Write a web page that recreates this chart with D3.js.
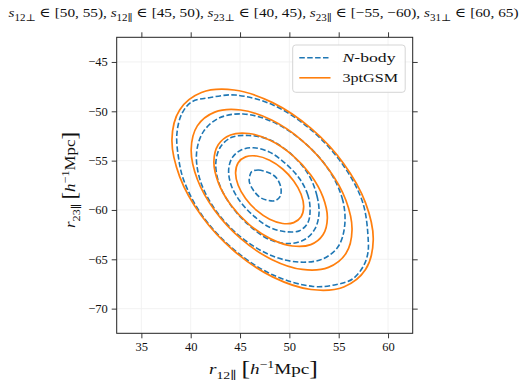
<!DOCTYPE html>
<html><head><meta charset="utf-8">
<script src="https://cdn.jsdelivr.net/npm/d3@7"></script>
<style>body{margin:0;background:#fff}svg{display:block}text{font-family:"Liberation Serif","DejaVu Serif",serif;fill:#111}</style>
</head><body><div id="chart"></div>
<script>
// ---- data ----
const xTicks = [35, 40, 45, 50, 55, 60];
const yTicks = [-45, -50, -55, -60, -65, -70];
const xDomain = [32.5, 62.5];
const yDomain = [-72.5, -42.5];
const seriesNames = ["N-body", "3ptGSM"];

// 3ptGSM contours (outer -> inner), [r12par, r23par]
const gsm1 = [[58.50,-63.05],[57.72,-59.28],[55.51,-55.31],[52.20,-51.74],[48.30,-49.12],[44.40,-47.84],[41.09,-48.10],[38.88,-49.86],[38.10,-52.85],[38.88,-56.62],[41.09,-60.59],[44.40,-64.16],[48.30,-66.78],[52.20,-68.06],[55.51,-67.80],[57.72,-66.04]];
const gsm2 = [[56.35,-62.03],[55.73,-59.01],[53.96,-55.84],[51.32,-52.99],[48.20,-50.89],[45.08,-49.87],[42.44,-50.08],[40.67,-51.48],[40.05,-53.88],[40.67,-56.89],[42.44,-60.06],[45.08,-62.91],[48.20,-65.01],[51.32,-66.03],[53.96,-65.82],[55.73,-64.42]];
const gsm3 = [[53.85,-60.83],[53.41,-58.70],[52.17,-56.46],[50.30,-54.45],[48.10,-52.97],[45.90,-52.25],[44.03,-52.40],[42.79,-53.39],[42.35,-55.08],[42.79,-57.20],[44.03,-59.44],[45.90,-61.45],[48.10,-62.93],[50.30,-63.65],[52.17,-63.51],[53.41,-62.51]];
const gsm4 = [[51.45,-59.68],[51.19,-58.40],[50.44,-57.06],[49.32,-55.85],[48.00,-54.96],[46.68,-54.53],[45.56,-54.62],[44.81,-55.21],[44.55,-56.23],[44.81,-57.50],[45.56,-58.84],[46.68,-60.05],[48.00,-60.94],[49.32,-61.37],[50.44,-61.28],[51.19,-60.69]];

// N-body contours (outer -> inner)
const nbody1 = [[58.00,-63.20],[57.45,-59.29],[55.41,-55.40],[52.17,-51.85],[48.30,-49.34],[44.50,-48.35],[42.00,-48.60],[40.10,-49.05],[39.10,-50.25],[38.60,-52.30],[38.75,-54.60],[39.30,-57.00],[41.19,-60.60],[44.47,-64.09],[48.30,-66.57],[52.40,-67.75],[54.80,-67.55],[56.40,-67.00],[57.50,-65.70],[57.95,-64.40]];
const nbody2 = [[55.60,-61.65],[55.41,-59.01],[53.99,-55.92],[51.40,-53.07],[48.30,-51.07],[45.32,-50.27],[42.93,-50.66],[41.32,-52.01],[40.60,-54.15],[40.95,-56.96],[42.57,-60.10],[45.24,-62.87],[48.30,-64.67],[51.11,-65.29],[53.39,-64.96],[54.95,-63.71]];
const nbody3 = [[53.00,-60.40],[52.80,-58.58],[51.96,-56.45],[50.22,-54.37],[48.00,-52.88],[45.90,-52.45],[44.15,-52.64],[43.01,-53.62],[42.55,-55.18],[42.83,-57.17],[43.97,-59.38],[45.78,-61.43],[48.00,-63.01],[50.12,-63.40],[51.68,-62.92],[52.62,-61.87]];
const nbody4 = [[52.10,-60.00],[51.88,-58.50],[51.04,-56.84],[49.65,-55.33],[48.00,-54.14],[46.35,-53.69],[45.07,-53.94],[44.21,-54.70],[43.85,-55.88],[44.07,-57.40],[44.96,-59.06],[46.35,-60.57],[48.00,-61.76],[49.65,-62.21],[51.04,-62.10],[51.88,-61.28]];
const nbody5 = [[46.18,-56.12],[46.85,-55.95],[48.04,-56.28],[48.72,-56.79],[49.15,-57.80],[49.05,-58.65],[48.54,-59.06],[47.70,-58.99],[47.02,-58.72],[46.34,-57.98],[45.94,-57.13],[46.01,-56.46]];

const gsmContours = [gsm1, gsm2, gsm3, gsm4];
const nbodyContours = [nbody1, nbody2, nbody3, nbody4, nbody5];

// ---- drawing ----
const W = 530, H = 392;
const plot = {left: 116.7, top: 37.3, width: 296, height: 296};
const BLUE = "#1f77b4", ORANGE = "#ff7f0e";

const svg = d3.select("#chart").append("svg").attr("width", W).attr("height", H);

const x = d3.scaleLinear().domain(xDomain).range([plot.left, plot.left + plot.width]);
const y = d3.scaleLinear().domain(yDomain).range([plot.top + plot.height, plot.top]);

// grid
const grid = svg.append("g");
grid.selectAll("line.gx").data(xTicks).join("line")
  .attr("x1", d => x(d)).attr("x2", d => x(d))
  .attr("y1", plot.top).attr("y2", plot.top + plot.height)
  .attr("stroke", "#efefef").attr("stroke-width", 0.8);
grid.selectAll("line.gy").data(yTicks).join("line")
  .attr("y1", d => y(d)).attr("y2", d => y(d))
  .attr("x1", plot.left).attr("x2", plot.left + plot.width)
  .attr("stroke", "#efefef").attr("stroke-width", 0.8);

const line = d3.line().x(d => x(d[0])).y(d => y(d[1])).curve(d3.curveCatmullRomClosed.alpha(0.5));

const cont = svg.append("g");
cont.selectAll("path.nb").data(nbodyContours).join("path")
  .attr("d", line).attr("fill", "none").attr("stroke", BLUE)
  .attr("stroke-width", 1.6).attr("stroke-dasharray", "5.5,2.4");
cont.selectAll("path.gsm").data(gsmContours).join("path")
  .attr("d", line).attr("fill", "none").attr("stroke", ORANGE)
  .attr("stroke-width", 1.7);

// axes
const fmt = d3.format("d");
const axStyle = g => {
  g.select(".domain").remove();
  g.selectAll(".tick line").attr("stroke", "#222").attr("stroke-width", 0.9);
  g.selectAll(".tick text").attr("font-size", 12.5).attr("font-family", "Liberation Serif, serif").attr("fill", "#222");
};
svg.append("g").attr("transform", `translate(0,${plot.top + plot.height})`)
  .call(d3.axisBottom(x).tickValues(xTicks).tickSize(5).tickPadding(4).tickFormat(fmt)).call(axStyle);
svg.append("g").attr("transform", `translate(0,${plot.top})`)
  .call(d3.axisTop(x).tickValues(xTicks).tickSize(5).tickFormat("")).call(axStyle);
svg.append("g").attr("transform", `translate(${plot.left},0)`)
  .call(d3.axisLeft(y).tickValues(yTicks).tickSize(5).tickPadding(4).tickFormat(fmt)).call(axStyle);
svg.append("g").attr("transform", `translate(${plot.left + plot.width},0)`)
  .call(d3.axisRight(y).tickValues(yTicks).tickSize(5).tickFormat("")).call(axStyle);

// frame
svg.append("rect").attr("x", plot.left).attr("y", plot.top)
  .attr("width", plot.width).attr("height", plot.height)
  .attr("fill", "none").attr("stroke", "#222").attr("stroke-width", 1);

// rich text helper
function rich(parent, parts, size, targetWidth) {
  const t = parent.append("text").attr("font-size", size);
  let shift = 0;
  parts.forEach(([s, kind]) => {
    const ts = t.append("tspan").text(s);
    let target = 0, fs = size;
    if (kind === "i") ts.attr("font-style", "italic");
    if (kind === "sub") { target = size * 0.3; fs = size * 0.72; }
    if (kind === "sup") { target = -size * 0.42; fs = size * 0.72; }
    if (kind === "big") { fs = size * 1.35; target = size * 0.08; }
    ts.attr("font-size", fs).attr("dy", target - shift);
    shift = target;
  });
  if (targetWidth) t.attr("textLength", targetWidth).attr("lengthAdjust", "spacingAndGlyphs");
  return t;
}

// title
rich(svg.append("g").attr("transform", "translate(8.5,16.5)"), [
  ["s", "i"], ["12⊥", "sub"], [" ∈ [50, 55), ", "n"],
  ["s", "i"], ["12∥", "sub"], [" ∈ [45, 50), ", "n"],
  ["s", "i"], ["23⊥", "sub"], [" ∈ [40, 45), ", "n"],
  ["s", "i"], ["23∥", "sub"], [" ∈ [−55, −60), ", "n"],
  ["s", "i"], ["31⊥", "sub"], [" ∈ [60, 65)", "n"]
], 13.5, 510);

// x label
rich(svg.append("g").attr("transform", "translate(209,374)"), [
  ["r", "i"], ["12∥", "sub"], ["  ", "n"], ["[", "big"], ["h", "i"], ["−1", "sup"], ["Mpc", "n"], ["]", "big"]
], 15.5, 109);

// y label
rich(svg.append("g").attr("transform", "translate(75,228) rotate(-90)"), [
  ["r", "i"], ["23∥", "sub"], ["  ", "n"], ["[", "big"], ["h", "i"], ["−1", "sup"], ["Mpc", "n"], ["]", "big"]
], 15.5, 96);

// legend
const lg = svg.append("g");
lg.append("rect").attr("x", 292.7).attr("y", 45).attr("width", 112.5).attr("height", 47.3)
  .attr("rx", 3).attr("fill", "#fff").attr("fill-opacity", 0.85).attr("stroke", "#d0d0d0").attr("stroke-width", 0.9);
const items = [
  {name: seriesNames[0], color: BLUE, dash: "5.5,2.4"},
  {name: seriesNames[1], color: ORANGE, dash: null}
];
items.forEach((it, i) => {
  const yy = 57.8 + i * 20;
  lg.append("line").attr("x1", 299.3).attr("x2", 330.5).attr("y1", yy).attr("y2", yy)
    .attr("stroke", it.color).attr("stroke-width", 1.6).attr("stroke-dasharray", it.dash);
  const g = lg.append("g").attr("transform", `translate(342.5,${yy + 4.5})`);
  if (i === 0) rich(g, [["N", "i"], ["-body", "n"]], 13.5, 53);
  else rich(g, [["3ptGSM", "n"]], 13.5, 55.5);
});
</script></body></html>
